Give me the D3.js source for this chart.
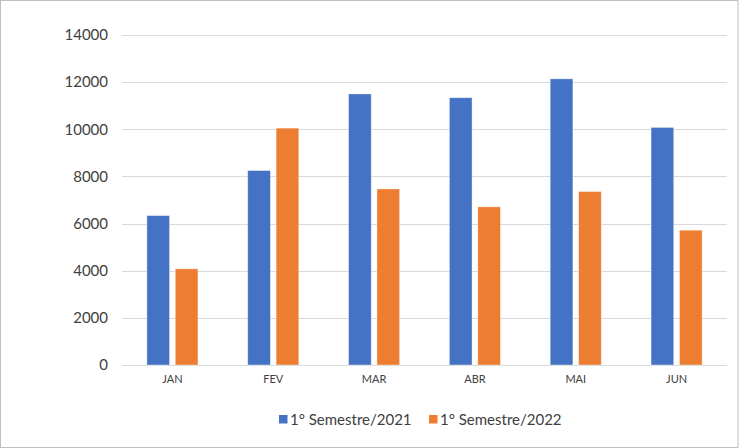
<!DOCTYPE html>
<html>
<head>
<meta charset="utf-8">
<script src="https://cdn.jsdelivr.net/npm/d3@7"></script>
<style>
  html, body { margin: 0; padding: 0; background: #fff; }
  svg { display: block; }
  text { font-family: Lato, "Open Sans", sans-serif; fill: #404040; }
</style>
</head>
<body>
<svg id="chart" width="739" height="448"></svg>
<script>
const categories = ["JAN", "FEV", "MAR", "ABR", "MAI", "JUN"];
const seriesNames = ["1° Semestre/2021", "1° Semestre/2022"];
const values2021 = [6340, 8250, 11500, 11340, 12140, 10080];
const values2022 = [4080, 10050, 7470, 6710, 7360, 5720];
const yTicks = [0, 2000, 4000, 6000, 8000, 10000, 12000, 14000];
const colors = ["#4472C4", "#ED7D31"];

const W = 739, H = 448;
const margin = { left: 122, right: 12, top: 35, bottom: 83 };
const svg = d3.select("#chart");

// border
svg.append("rect").attr("x", 0.5).attr("y", 0.5).attr("width", W - 1.5).attr("height", H - 1)
  .attr("fill", "none").attr("stroke", "#bfbfbf").attr("stroke-width", 1);

const x = d3.scaleBand().domain(categories).range([margin.left, W - margin.right]).paddingInner(0).paddingOuter(0);
const y = d3.scaleLinear().domain([0, 14000]).range([H - margin.bottom, margin.top]);

// gridlines
svg.append("g").selectAll("line").data(yTicks).join("line")
  .attr("x1", margin.left).attr("x2", W - margin.right)
  .attr("y1", d => Math.round(y(d)) + 0.5).attr("y2", d => Math.round(y(d)) + 0.5)
  .attr("stroke", "#d9d9d9").attr("stroke-width", 1.2);

// y labels
const yAxis = d3.axisLeft(y).tickValues(yTicks).tickSize(0).tickPadding(14).tickFormat(d3.format("d"));
const gy = svg.append("g").attr("transform", `translate(${margin.left},0)`).call(yAxis);
gy.select(".domain").remove();
gy.selectAll("text").style("font-size", "15px").attr("fill", "#404040")
  .style("font-family", "Lato, 'Open Sans', sans-serif");

// bars
const barW = 22.7, gap = 5.7;
const data = categories.map((c, i) => ({ c, vals: [values2021[i], values2022[i]] }));
const groups = svg.append("g").selectAll("g").data(data).join("g");
groups.selectAll("rect").data(d => d.vals.map((v, k) => ({ c: d.c, v, k }))).join("rect")
  .attr("x", d => x(d.c) + x.bandwidth() / 2 + (d.k === 0 ? -(barW + gap / 2) : gap / 2))
  .attr("y", d => y(d.v))
  .attr("width", barW)
  .attr("height", d => y(0) - y(d.v))
  .attr("fill", d => colors[d.k])
  .attr("stroke", "#ffffff").attr("stroke-opacity", 0.5).attr("stroke-width", 0.8);

// x axis labels
const xAxis = d3.axisBottom(x).tickSize(0).tickPadding(10);
const gx = svg.append("g").attr("transform", `translate(0,${y(0)})`).call(xAxis);
gx.select(".domain").remove();
gx.selectAll("text").style("font-size", "11px").attr("fill", "#404040")
  .style("font-family", "Lato, 'Open Sans', sans-serif");

// legend
const legend = svg.append("g");
const legendItems = [{ name: seriesNames[0], x: 279 }, { name: seriesNames[1], x: 429 }];
legendItems.forEach((it, i) => {
  legend.append("rect").attr("x", it.x).attr("y", 415).attr("width", 8.5).attr("height", 8.5).attr("fill", colors[i]);
  legend.append("text").attr("x", it.x + 11).attr("y", 424.5).style("font-size", "15px").text(it.name);
});
</script>
</body>
</html>
